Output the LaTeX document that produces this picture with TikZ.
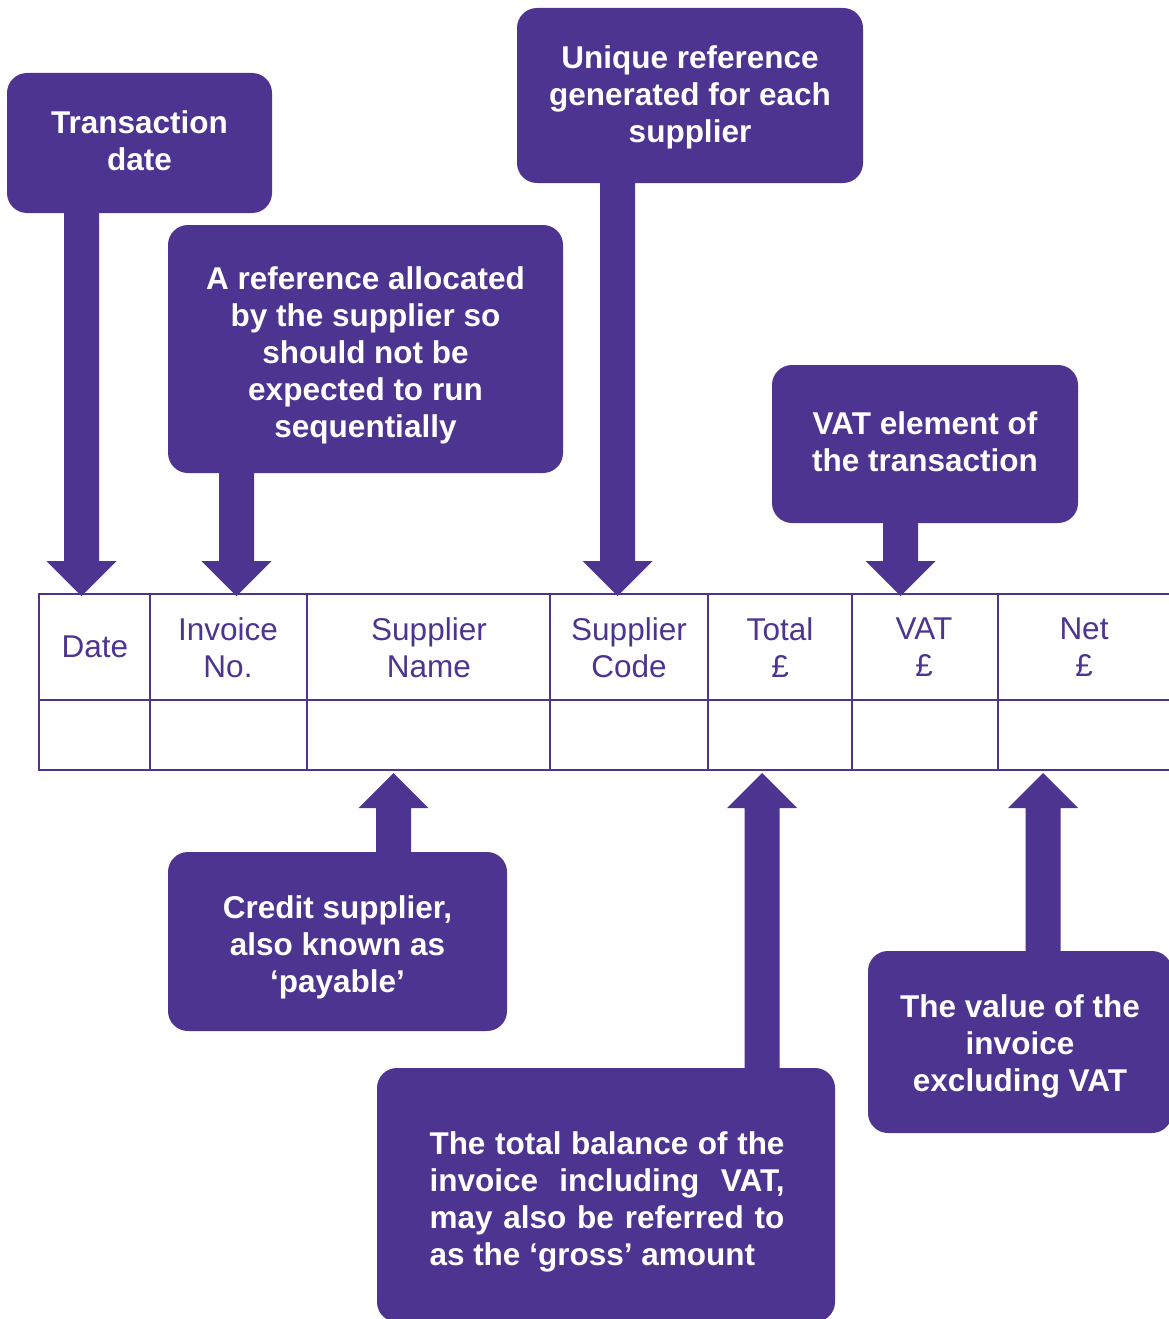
\documentclass[tikz,border=0pt]{standalone}
\usepackage{fontspec}
\setmainfont{Liberation Sans}
\usetikzlibrary{calc}
\definecolor{vatpurple}{RGB}{76,52,144}

% Block arrow from a callout edge (#1) to a tip (#2); #3 is + for a
% downward arrow and - for an upward one.
\newcommand\blockarrow[3]{%
  \fill[arrowfill] let \p1=(#1), \p2=(#2) in
    (\x2-17.5pt,\y1) -- (\x2-17.5pt,\y2#3 35pt) -- (\x2-35pt,\y2#3 35pt)
    -- (\x2,\y2) -- (\x2+35pt,\y2#3 35pt) -- (\x2+17.5pt,\y2#3 35pt)
    -- (\x2+17.5pt,\y1) -- cycle;}

\begin{document}
\begin{tikzpicture}[x=1pt,y=-1pt,
  callout/.style={fill=vatpurple, rounded corners=20pt, inner sep=0pt},
  callouttext/.style={text=white, font=\bfseries\fontsize{31.5}{37}\selectfont,
    align=center, inner sep=0pt},
  colhead/.style={text=vatpurple, font=\fontsize{31.5}{37}\selectfont,
    align=center, inner sep=0pt},
  grid/.style={draw=vatpurple, line width=1.6pt},
  arrowfill/.style={fill=vatpurple}]
\clip (0,0) rectangle (1169,1319);

% callouts above the table
\node[callout, minimum width=265pt, minimum height=140pt] (cdate) at (139.5,143) {};
\node[callouttext] (cdatetext) at ($(cdate.center)+(0,-2)$) {Transaction\\date};
\node[callout, minimum width=395pt, minimum height=248pt] (cinv) at (365.5,349) {};
\node[callouttext] (cinvtext) at ($(cinv.center)+(0,6)$)
  {A reference allocated\\by the supplier so\\should not be\\expected to run\\sequentially};
\node[callout, minimum width=346pt, minimum height=175pt] (ccode) at (690,95.5) {};
\node[callouttext] (ccodetext) at ($(ccode.center)+(0,2)$)
  {Unique reference\\generated for each\\supplier};
\node[callout, minimum width=306pt, minimum height=158pt] (cvat) at (925,444) {};
\node[callouttext] (cvattext) at ($(cvat.center)+(0,-2)$)
  {VAT element of\\the transaction};

% callouts below the table
\node[callout, minimum width=339pt, minimum height=179pt] (cname) at (337.5,941.5) {};
\node[callouttext] (cnametext) at ($(cname.center)+(0,6)$)
  {Credit supplier,\\also known as\\‘payable’};
\node[callout, minimum width=458pt, minimum height=254pt] (ctotal) at (606,1195) {};
\node[callouttext, align=left] (ctotaltext) at ($(ctotal.center)+(1,7)$)
  {\makebox[355pt][s]{The total balance of the}\\
   \makebox[355pt][s]{invoice including VAT,}\\
   \makebox[355pt][s]{may also be referred to}\\
   as the ‘gross’ amount};
\node[callout, minimum width=304pt, minimum height=182pt] (cnet) at (1020,1042) {};
\node[callouttext] (cnettext) at ($(cnet.center)+(0,4)$)
  {The value of the\\invoice\\excluding VAT};

% table grid
\draw[grid] (1169,594) -- (39,594) -- (39,770) -- (1169,770);
\draw[grid] (39,700) -- (1169,700);
\foreach \cx in {150,307,550,708,852,998}
  \draw[grid] (\cx,594) -- (\cx,770);

% column headings
\node[colhead] (hdate) at (95,647) {Date};
\node[colhead] (hinv) at (228,647.5) {Invoice\\No.};
\node[colhead] (hname) at (429,647.5) {Supplier\\Name};
\node[colhead] (hcode) at (629,647.5) {Supplier\\Code};
\node[colhead] (htotal) at (780,647.5) {Total\\£};
\node[colhead] (hvat) at (924,647.5) {VAT\\£};
\node[colhead] (hnet) at (1084,647.5) {Net\\£};

% arrow tips on the table edges
\coordinate (tdate) at (81.5,596);
\coordinate (tinv) at (236.5,596);
\coordinate (tcode) at (617.5,596);
\coordinate (tvat) at (900.5,596);
\coordinate (tname) at (393.5,773);
\coordinate (ttotal) at (762,773);
\coordinate (tnet) at (1043,773);

% block arrows
\blockarrow{tdate |- cdate.south}{tdate}{+}
\blockarrow{tinv |- cinv.south}{tinv}{+}
\blockarrow{tcode |- ccode.south}{tcode}{+}
\blockarrow{tvat |- cvat.south}{tvat}{+}
\blockarrow{tname |- cname.north}{tname}{-}
\blockarrow{ttotal |- ctotal.north}{ttotal}{-}
\blockarrow{tnet |- cnet.north}{tnet}{-}
\end{tikzpicture}
\end{document}
